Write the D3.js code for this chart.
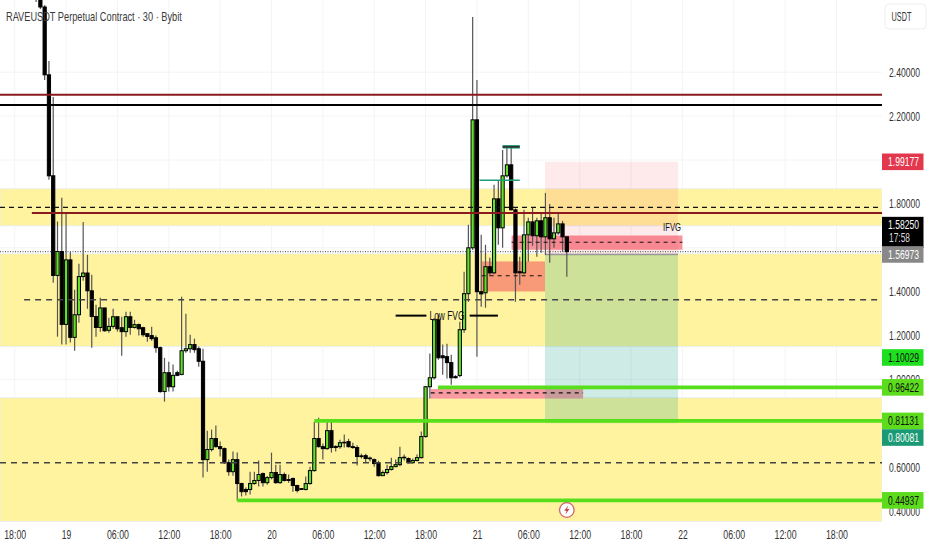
<!DOCTYPE html>
<html>
<head>
<meta charset="utf-8">
<script src="https://cdn.jsdelivr.net/npm/d3@7"></script>
<style>
body { margin: 0; background: #fff; }
text { font-family: "Liberation Sans", sans-serif; }
.axis path, .axis line { display: none; }
</style>
</head>
<body>
<script>
var width = 932,
    height = 550,
    paneRight = 882,
    paneBottom = 522;

// 30 minute bars, first visible one is bar 5 counted from 18:00 on the 18th
var firstBar = 5;
var opens = [
    2.866,2.765,2.697,2.388,1.928,1.474,1.583,1.251,1.545,1.192,
    1.295,1.469,1.485,1.404,1.287,1.237,1.326,1.224,1.242,1.286,
    1.236,1.218,1.286,1.237,1.250,1.236,1.209,1.200,1.190,1.145,
    0.945,1.031,0.967,1.031,1.023,1.131,1.140,1.159,1.140,1.083,
    0.635,0.681,0.731,0.694,0.685,0.621,0.580,0.635,0.526,0.499,
    0.499,0.526,0.540,0.571,0.530,0.553,0.576,0.530,0.567,0.544,
    0.549,0.517,0.503,0.499,0.526,0.585,0.731,0.694,0.685,0.767,
    0.690,0.694,0.714,0.717,0.694,0.690,0.652,0.653,0.642,0.635,
    0.621,0.562,0.576,0.590,0.603,0.612,0.646,0.640,0.621,0.631,
    0.644,0.740,0.967,1.008,1.272,1.108,1.104,1.077,1.013,1.018,
    1.227,1.391,1.600,2.183,1.400,1.395,1.514,1.486,1.823,1.691,
    1.928,1.978,1.773,1.491,1.486,1.659,1.718,1.655,1.723,1.650,
    1.737,1.641,1.668,1.709,1.650];
var closes = [
    2.765,2.697,2.388,1.928,1.474,1.583,1.251,1.545,1.192,1.295,
    1.469,1.485,1.404,1.287,1.237,1.326,1.222,1.242,1.286,1.231,
    1.218,1.286,1.237,1.250,1.231,1.204,1.196,1.186,1.145,0.945,
    1.031,0.967,1.019,1.019,1.131,1.140,1.159,1.136,1.083,0.635,
    0.681,0.731,0.694,0.685,0.621,0.580,0.635,0.526,0.489,0.489,
    0.526,0.540,0.567,0.530,0.553,0.576,0.530,0.567,0.540,0.540,
    0.517,0.494,0.499,0.526,0.585,0.731,0.694,0.685,0.767,0.690,
    0.695,0.712,0.712,0.694,0.690,0.649,0.649,0.640,0.639,0.617,
    0.562,0.576,0.590,0.603,0.612,0.644,0.644,0.621,0.631,0.644,
    0.740,0.967,1.008,1.272,1.099,1.099,1.077,1.008,1.008,1.227,
    1.391,1.600,2.183,1.400,1.390,1.514,1.486,1.823,1.691,1.928,
    1.978,1.773,1.486,1.486,1.659,1.718,1.655,1.723,1.650,1.737,
    1.641,1.668,1.709,1.650,1.5825];
var highs = [
    2.911,2.797,2.706,2.451,2.287,1.720,1.828,1.759,1.582,1.409,
    1.527,1.718,1.568,1.477,1.341,1.372,1.326,1.281,1.322,1.286,
    1.286,1.309,1.309,1.272,1.255,1.240,1.210,1.240,1.200,1.150,
    1.099,1.081,1.068,1.040,1.377,1.300,1.204,1.186,1.150,1.140,
    0.767,0.772,0.790,0.717,0.690,0.635,0.672,0.667,0.530,0.508,
    0.580,0.580,0.631,0.576,0.560,0.667,0.612,0.612,0.576,0.567,
    0.553,0.520,0.505,0.558,0.603,0.808,0.826,0.708,0.817,0.808,
    0.700,0.726,0.749,0.730,0.712,0.700,0.662,0.662,0.649,0.640,
    0.630,0.585,0.612,0.644,0.635,0.694,0.658,0.645,0.640,0.658,
    0.763,0.970,1.118,1.280,1.295,1.159,1.163,1.113,1.020,1.263,
    1.491,1.705,2.652,2.365,1.659,1.614,1.555,1.887,1.905,2.046,
    2.060,2.055,1.780,1.559,1.773,1.737,1.782,1.737,1.759,1.850,
    1.800,1.737,1.759,1.723,1.650];
var lows = [
    2.720,2.688,2.365,1.910,1.441,1.195,1.159,1.159,1.168,1.131,
    1.259,1.450,1.322,1.145,1.195,1.218,1.218,1.213,1.231,1.218,
    1.108,1.195,1.204,1.232,1.200,1.195,1.172,1.177,1.122,0.940,
    0.899,0.945,0.945,1.015,1.019,1.122,1.122,1.122,1.058,0.553,
    0.580,0.672,0.690,0.649,0.615,0.562,0.562,0.448,0.467,0.471,
    0.476,0.520,0.512,0.512,0.521,0.545,0.525,0.525,0.535,0.530,
    0.489,0.485,0.497,0.494,0.520,0.580,0.690,0.635,0.680,0.667,
    0.672,0.685,0.690,0.690,0.685,0.608,0.640,0.621,0.626,0.603,
    0.558,0.560,0.567,0.585,0.600,0.605,0.631,0.617,0.617,0.626,
    0.640,0.735,0.913,1.000,1.090,1.022,1.004,0.976,1.005,1.010,
    1.213,1.354,1.590,1.104,1.331,1.327,1.473,1.480,1.614,1.600,
    1.920,1.770,1.354,1.432,1.480,1.536,1.609,1.559,1.577,1.568,
    1.532,1.600,1.660,1.582,1.468];

var priceTicks = [2.4, 2.2, 2.0, 1.8, 1.6, 1.4, 1.2, 1.0, 0.8, 0.6, 0.4];
// 2.0, 1.6 and 0.8 are covered by price tags in the picture, they only keep a grid line
var priceLabels = [2.4, 2.2, 1.8, 1.4, 1.2, 1.0, 0.6, 0.4];

// [top, bottom] of the yellow bands
var zoneTops = [1.869, 1.573, 0.917];
var zoneBottoms = [1.700, 1.150, 0.353];

var redLevels = [2.297, 1.759];
var redStarts = [null, 4];
var blackLevel = 2.251;
var dashedLevels = [1.784, 1.363, 0.621];
var dashedStarts = [null, 2.2, null];
var greenLevels = [0.96422, 0.81131, 0.44937];
var greenStarts = [98.9, 70, 52];

var fvgStarts = [109.1, 116.1, 97.2];
var fvgEnds = [123.9, 156, 132.8];
var fvgTops = [1.538, 1.656, 0.957];
var fvgBottoms = [1.401, 1.591, 0.913];
var fvgMids = [1.473, 1.625, 0.939];

// long position tool
var posStart = 123.9, posEnd = 155,
    posStop = 1.99177, posEntry = 1.56973, posTarget = 0.80081;

var tagValues = ["1.99177", "1.58250", "1.56973", "1.10029", "0.96422", "0.81131", "0.80081", "0.44937"];

var svg = d3.select("body").append("svg")
    .attr("width", width)
    .attr("height", height)
    .style("display", "block");

var t0 = Date.UTC(2025, 11, 18, 18);
var barMs = 30 * 60 * 1000;

var x = d3.scaleUtc()
    .domain([new Date(t0), new Date(t0 + 192 * barMs)])
    .range([14.7, 14.7 + 192 * 4.28]);

var y = d3.scaleLinear()
    .domain([2.4, 0.4])
    .range([72.2, 511.2]);

function bx(i) { return x(new Date(t0 + i * barMs)); }

// the reference font is a squeezed one, so text is scaled to the width it has there
function squeeze(sel, w) {
    sel.each(function(d) {
        var px = +this.getAttribute("x") || 0,
            target = typeof w === "function" ? w(d) : w,
            s = target / this.getComputedTextLength();
        this.setAttribute("transform", "translate(" + px + ",0) scale(" + s + ",1) translate(" + (-px) + ",0)");
    });
}

svg.append("clipPath").attr("id", "pane")
    .append("rect").attr("width", paneRight).attr("height", paneBottom);

var pane = svg.append("g").attr("clip-path", "url(#pane)");

// grid
var hours = d3.utcHour.every(6).range(new Date(t0), new Date(t0 + 193 * barMs));

pane.selectAll(".vgrid").data(hours).enter().append("line")
    .attr("x1", function(d) { return x(d); })
    .attr("x2", function(d) { return x(d); })
    .attr("y1", 0).attr("y2", paneBottom)
    .attr("stroke", "#f3f4f6");

pane.selectAll(".hgrid").data(priceTicks).enter().append("line")
    .attr("x1", 0).attr("x2", paneRight)
    .attr("y1", function(d) { return y(d); })
    .attr("y2", function(d) { return y(d); })
    .attr("stroke", "#f3f4f6");

// yellow bands
pane.selectAll(".zone").data(zoneTops).enter().append("rect")
    .attr("x", 0).attr("width", paneRight)
    .attr("y", function(d) { return y(d); })
    .attr("height", function(d, i) { return y(zoneBottoms[i]) - y(d); })
    .attr("fill", "#fff39f")
    .attr("stroke", "#e6edf5")
    .attr("stroke-width", 0.8);

// title sits under the candles
svg.append("text")
    .attr("x", 6).attr("y", 21)
    .attr("font-size", 13.5)
    .attr("fill", "#3a3a3a")
    .text("RAVEUSDT Perpetual Contract · 30 · Bybit")
    .call(squeeze, 176);

// fvg boxes
var fvgColors = ["#f89a78", "#f8919a", "#f89aa0"];
pane.selectAll(".fvg").data(fvgTops).enter().append("rect")
    .attr("x", function(d, i) { return bx(fvgStarts[i]); })
    .attr("width", function(d, i) { return bx(fvgEnds[i]) - bx(fvgStarts[i]); })
    .attr("y", function(d) { return y(d); })
    .attr("height", function(d, i) { return y(fvgBottoms[i]) - y(d); })
    .attr("fill", function(d, i) { return fvgColors[i]; });

// position tool
pane.append("rect")
    .attr("x", bx(posStart)).attr("width", bx(posEnd) - bx(posStart))
    .attr("y", y(posStop)).attr("height", y(posEntry) - y(posStop))
    .attr("fill", "rgba(242,54,69,0.11)");
pane.append("rect")
    .attr("x", bx(posStart)).attr("width", bx(posEnd) - bx(posStart))
    .attr("y", y(posEntry)).attr("height", y(posTarget) - y(posEntry))
    .attr("fill", "rgba(8,153,129,0.2)");
pane.append("line")
    .attr("x1", bx(posStart)).attr("x2", bx(posEnd))
    .attr("y1", y(posEntry)).attr("y2", y(posEntry))
    .attr("stroke", "#999").attr("stroke-width", 1.5);

function hline(level, start, color, w, dash) {
    pane.append("line")
        .attr("x1", start === null ? 0 : bx(start))
        .attr("x2", paneRight)
        .attr("y1", y(level)).attr("y2", y(level))
        .attr("stroke", color)
        .attr("stroke-width", w)
        .attr("stroke-dasharray", dash);
}

// last price dotted line
pane.append("line")
    .attr("x1", 0).attr("x2", paneRight)
    .attr("y1", y(closes[closes.length - 1])).attr("y2", y(closes[closes.length - 1]))
    .attr("stroke", "#666").attr("stroke-dasharray", "1 1.5").attr("stroke-width", 1.2);

// candles
var bars = opens.map(function(o, i) {
    return { i: firstBar + i, o: o, c: closes[i], h: highs[i], l: lows[i] };
});

var candle = pane.selectAll(".candle").data(bars).enter().append("g");

candle.append("line")
    .attr("x1", function(d) { return bx(d.i); })
    .attr("x2", function(d) { return bx(d.i); })
    .attr("y1", function(d) { return y(d.h); })
    .attr("y2", function(d) { return y(d.l); })
    .attr("stroke", "#555")
    .attr("stroke-width", 1.2);

candle.append("rect")
    .attr("x", function(d) { return bx(d.i) - 1.6; })
    .attr("width", 3.2)
    .attr("y", function(d) { return y(Math.max(d.o, d.c)); })
    .attr("height", function(d) { return Math.max(0.6, Math.abs(y(d.o) - y(d.c))); })
    .attr("fill", function(d) { return d.c >= d.o ? "#62e02c" : "#000"; })
    .attr("stroke", "#000")
    .attr("stroke-width", 1);

// horizontal levels
redLevels.forEach(function(d, i) { hline(d, redStarts[i], "#8b1a1f", 2); });
hline(blackLevel, null, "#000", 2);
hline(dashedLevels[0], dashedStarts[0], "#111", 1.2, "5 4");
hline(dashedLevels[1], dashedStarts[1], "#444", 1.4, "6 5");
hline(dashedLevels[2], dashedStarts[2], "#444", 1.4, "6 5");
greenLevels.forEach(function(d, i) { hline(d, greenStarts[i], "#58df1c", 3.6); });

fvgMids.forEach(function(d, i) {
    pane.append("line")
        .attr("x1", bx(fvgStarts[i])).attr("x2", bx(fvgEnds[i]))
        .attr("y1", y(d)).attr("y2", y(d))
        .attr("stroke", "#111").attr("stroke-width", 1.1).attr("stroke-dasharray", "4 4");
});

// small teal marks above the top of the move
pane.append("line")
    .attr("x1", bx(108.6)).attr("x2", bx(118)).attr("y1", y(1.908)).attr("y2", y(1.908))
    .attr("stroke", "#1a9e78").attr("stroke-width", 1.5);
pane.append("line")
    .attr("x1", bx(114)).attr("x2", bx(118)).attr("y1", y(2.06)).attr("y2", y(2.06))
    .attr("stroke", "#1a9e78").attr("stroke-width", 3.5);
pane.append("line")
    .attr("x1", bx(114)).attr("x2", bx(118)).attr("y1", y(2.06)).attr("y2", y(2.06))
    .attr("stroke", "#333").attr("stroke-width", 1.8);

// Low FVG label
pane.append("line")
    .attr("x1", bx(89)).attr("x2", bx(96.2)).attr("y1", y(1.291)).attr("y2", y(1.291))
    .attr("stroke", "#000").attr("stroke-width", 2);
pane.append("line")
    .attr("x1", bx(106.3)).attr("x2", bx(112.9)).attr("y1", y(1.291)).attr("y2", y(1.291))
    .attr("stroke", "#000").attr("stroke-width", 2);
pane.append("text")
    .attr("x", bx(101)).attr("y", y(1.291) + 4)
    .attr("text-anchor", "middle")
    .attr("font-size", 12)
    .attr("fill", "#111")
    .text("Low FVG")
    .call(squeeze, 35);

pane.append("text")
    .attr("x", bx(153.6)).attr("y", y(1.693) + 4)
    .attr("text-anchor", "middle")
    .attr("font-size", 11)
    .attr("fill", "#111")
    .text("IFVG")
    .call(squeeze, 18);

// bottom mask, then axes
svg.append("rect")
    .attr("x", 0).attr("y", paneBottom).attr("width", width).attr("height", height - paneBottom)
    .attr("fill", "#fff");

var xAxis = d3.axisBottom(x)
    .tickValues(hours)
    .tickSize(0)
    .tickFormat(function(d) {
        return d.getUTCHours() === 0 ? d3.utcFormat("%-d")(d) : d3.utcFormat("%H:%M")(d);
    });

svg.append("g")
    .attr("class", "axis")
    .attr("transform", "translate(0," + 527 + ")")
    .call(xAxis)
    .selectAll("text")
    .attr("font-size", 12.5)
    .attr("fill", "#333")
    .call(squeeze, function(d) { return d.getUTCHours() === 0 ? 9.5 : 22; });

var yAxis = d3.axisRight(y)
    .tickValues(priceLabels)
    .tickSize(0)
    .tickFormat(d3.format(".5f"));

svg.append("g")
    .attr("class", "axis")
    .attr("transform", "translate(" + 886 + ",0)")
    .call(yAxis)
    .selectAll("text")
    .attr("font-size", 12.5)
    .attr("fill", "#333")
    .call(squeeze, 31);

// USDT box
svg.append("rect")
    .attr("x", 885).attr("y", 4).attr("width", 41).attr("height", 25).attr("rx", 4)
    .attr("fill", "#fff").attr("stroke", "#eeeeee");
svg.append("text")
    .attr("x", 901.5).attr("y", 21.5)
    .attr("text-anchor", "middle")
    .attr("font-size", 12)
    .attr("fill", "#333")
    .text("USDT")
    .call(squeeze, 20);

// price tags, two of them pushed aside so they do not overlap
var tagColors = ["#e2374c", "#000", "#888", "#1fe01f", "#5cdc1c", "#5cdc1c", "#1a9a74", "#5cdc1c"];
var tagText = ["#fff", "#fff", "#fff", "#111", "#111", "#111", "#fff", "#111"];
var tagShift = [0, -26.5, 0, 0, 0, 0, 14.3, 0];

var tag = svg.selectAll(".tag").data(tagValues).enter().append("g")
    .attr("transform", function(d, i) { return "translate(882," + (y(+d) + tagShift[i]) + ")"; });

tag.append("rect")
    .attr("y", -8.3)
    .attr("width", 41.5)
    .attr("height", function(d, i) { return i === 1 ? 31 : 16.6; })
    .attr("fill", function(d, i) { return tagColors[i]; });

tag.append("text")
    .attr("x", 21.5).attr("y", 4.3)
    .attr("text-anchor", "middle")
    .attr("font-size", 12.5)
    .attr("fill", function(d, i) { return tagText[i]; })
    .text(function(d) { return d; })
    .call(squeeze, 31);

svg.append("text")
    .attr("x", 889).attr("y", 242.5)
    .attr("font-size", 12.5)
    .attr("fill", "#ddd")
    .text("17:58")
    .call(squeeze, 21);

// lightning marker on the time line
var mark = svg.append("g").attr("transform", "translate(" + bx(129) + ",510)");
mark.append("circle").attr("r", 7.3).attr("fill", "#fff").attr("stroke", "#cf6470").attr("stroke-width", 1.3);
mark.append("path")
    .attr("d", "M1.4,-4.5 L-2.6,0.7 L-0.2,0.7 L-1.4,4.5 L2.6,-1 L0.2,-1 Z")
    .attr("fill", "#c8404f");
</script>
</body>
</html>
